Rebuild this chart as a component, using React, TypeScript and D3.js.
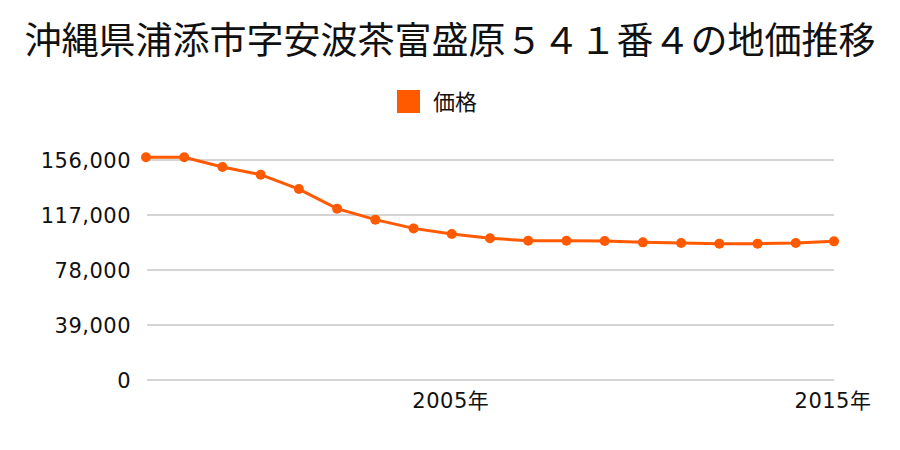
import React from "react";
import * as d3 from "d3";

const years = [1997, 1998, 1999, 2000, 2001, 2002, 2003, 2004, 2005, 2006, 2007, 2008, 2009, 2010, 2011, 2012, 2013, 2014, 2015];
const prices = [158000, 158000, 151000, 145600, 135400, 121500, 113700, 107500, 103500, 100500, 98800, 98800, 98600, 97600, 97100, 96700, 96700, 97100, 98300];
const yTicks = [0, 39000, 78000, 117000, 156000];
const xLabelYears = [2005, 2015];
const title = "沖縄県浦添市字安波茶富盛原５４１番４の地価推移";
const seriesName = "価格";

const W = 900, H = 450;
const COLOR = "#FF5A00";
const CJK = "'Noto Sans CJK JP', 'Noto Sans', sans-serif";
const NUM = "'DejaVu Sans', 'Noto Sans CJK JP', sans-serif";

export default function App() {
  const x = d3.scaleLinear().domain([1997, 2015]).range([146, 834]);
  const y = d3.scaleLinear().domain([0, 156000]).range([380, 160]);
  const line = d3.line<number>().x((_, i) => x(years[i])).y((d) => y(d));
  const fmt = d3.format(",");
  return (
    <svg width={W} height={H} style={{ position: "absolute", left: 0, top: 0 }}>
      <rect width={W} height={H} fill="#fff" />
      <text x={450} y={54} textAnchor="middle" fontSize={37} fill="#111" fontFamily={CJK}>{title}</text>
      <rect x={397} y={90} width={23} height={23} fill={COLOR} />
      <text x={433} y={110} fontSize={22} fill="#111" fontFamily={CJK}>{seriesName}</text>
      {yTicks.map((t) => (
        <g key={t}>
          <line x1={147} x2={834} y1={y(t)} y2={y(t)} stroke="#aaa" strokeWidth={1} />
          <text x={131} y={y(t) + 7.5} textAnchor="end" fontSize={21} letterSpacing={0.5} fill="#111" fontFamily={NUM}>{fmt(t)}</text>
        </g>
      ))}
      {xLabelYears.map((yr) => (
        <text key={yr} x={x(yr) - 1} y={408} textAnchor="middle" fontSize={21} letterSpacing={0.5} fill="#111" fontFamily={NUM}>{yr}年</text>
      ))}
      <path d={line(prices) || ""} fill="none" stroke={COLOR} strokeWidth={3} />
      {prices.map((p, i) => (
        <circle key={i} cx={x(years[i])} cy={y(p)} r={5} fill={COLOR} />
      ))}
    </svg>
  );
}
